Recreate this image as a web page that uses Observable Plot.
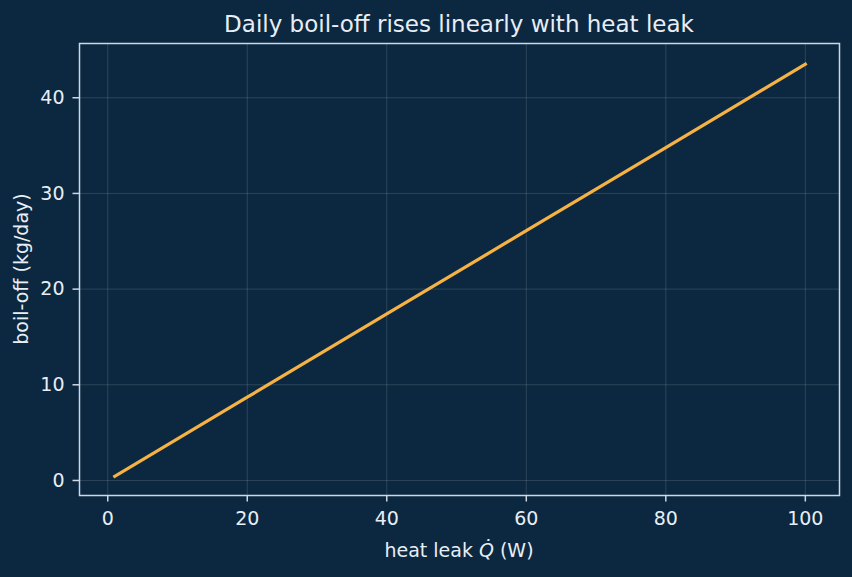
<!DOCTYPE html>
<html>
<head>
<meta charset="utf-8">
<script src="https://cdn.jsdelivr.net/npm/d3@7"></script>
<script src="https://cdn.jsdelivr.net/npm/@observablehq/plot@0.6"></script>
<style>
  html, body { margin: 0; padding: 0; background: #0c2840; }
  #chart svg { display: block; }
</style>
</head>
<body>
<div id="chart"></div>
<script>
// Heat leak (W) and the resulting daily boil-off (kg/day)
const heatLeak = [1, 20, 40, 60, 80, 100];
const boilOff = [0.44, 8.7, 17.4, 26.1, 34.8, 43.5];
const xTicks = [0, 20, 40, 60, 80, 100];
const yTicks = [0, 10, 20, 30, 40];

const rows = heatLeak.map((q, i) => ({q, m: boilOff[i]}));

const bg = "#0c2840";
const ink = "#e8eef5";
const frameColor = "#ccd8e5";
const lineColor = "#f6b244";
const font = "DejaVu Sans, sans-serif";

const W = 852, H = 577;
const mL = 79, mR = 13, mT = 43, mB = 82;

const chart = Plot.plot({
  width: W,
  height: H,
  marginLeft: mL,
  marginRight: mR,
  marginTop: mT,
  marginBottom: mB,
  style: {background: bg, color: ink, fontFamily: font, fontSize: "19px"},
  x: {domain: [-4.05, 104.9], ticks: xTicks, label: null},
  y: {domain: [-1.57, 45.67], ticks: yTicks, label: null},
  marks: [
    Plot.gridX(xTicks, {stroke: "#ffffff", strokeOpacity: 0.15, strokeWidth: 0.9}),
    Plot.gridY(yTicks, {stroke: "#ffffff", strokeOpacity: 0.15, strokeWidth: 0.9}),
    Plot.line(rows, {x: "q", y: "m", stroke: lineColor, strokeWidth: 3.2, strokeLinecap: "square"}),
    Plot.frame({stroke: frameColor, strokeWidth: 1.5}),
    Plot.axisX(xTicks, {tickSize: 6.5, tickPadding: 9, stroke: frameColor, strokeWidth: 1.5, fill: ink, fontSize: 19}),
    Plot.axisY(yTicks, {tickSize: 6.5, tickPadding: 8.5, stroke: frameColor, strokeWidth: 1.5, fill: ink, fontSize: 19})
  ]
});

const svg = d3.select(chart);
const cx = mL + (W - mL - mR) / 2;
const cy = mT + (H - mT - mB) / 2;

// Title, centred over the plot area
svg.append("text")
  .attr("x", cx).attr("y", 31.5)
  .attr("text-anchor", "middle")
  .attr("fill", ink).attr("font-size", 23)
  .attr("font-family", font)
  .text("Daily boil-off rises linearly with heat leak");

// Axis titles: the x label carries an italic dotted Q
const xl = svg.append("text")
  .attr("x", cx).attr("y", 556.5)
  .attr("text-anchor", "middle")
  .attr("fill", ink).attr("font-size", 19)
  .attr("font-family", font);
xl.append("tspan").text("heat leak ");
xl.append("tspan").attr("font-style", "italic").text("Q\u0307");
xl.append("tspan").text(" (W)");

svg.append("text")
  .attr("transform", `translate(27.5,${cy}) rotate(-90)`)
  .attr("text-anchor", "middle")
  .attr("fill", ink).attr("font-size", 19)
  .attr("font-family", font)
  .text("boil-off (kg/day)");

document.getElementById("chart").append(chart);
</script>
</body>
</html>
